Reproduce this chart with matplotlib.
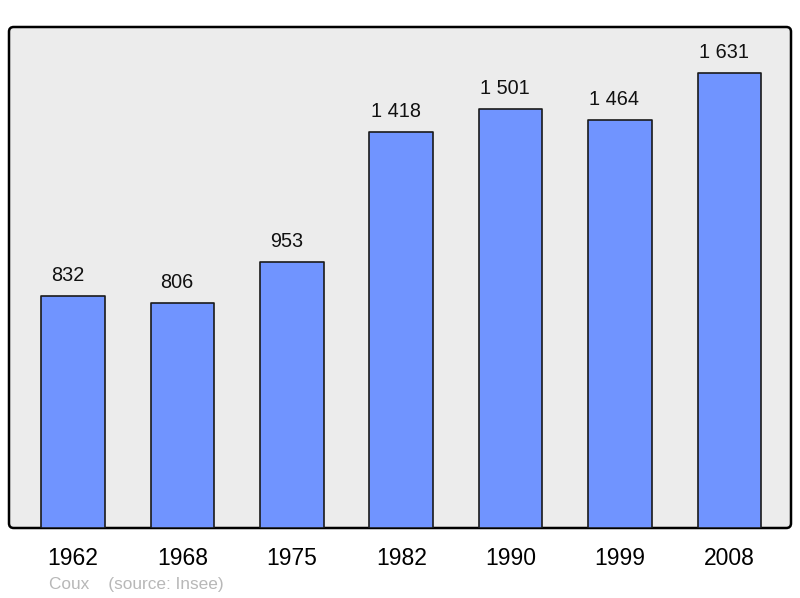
import matplotlib
matplotlib.use('Agg')
import matplotlib.pyplot as plt
from matplotlib.patches import FancyBboxPatch

YEARS = ['1962', '1968', '1975', '1982', '1990', '1999', '2008']
POP = [832, 806, 953, 1418, 1501, 1464, 1631]
LABELS = ['832', '806', '953', '1 418', '1 501', '1 464', '1 631']

BG = '#ececec'
BAR = '#7094ff'
INK = '#000000'
GREY = '#b8b8b8'

plt.rcParams['font.family'] = ['Liberation Sans', 'DejaVu Sans']

fig = plt.figure(figsize=(8, 5.98), dpi=100, facecolor='white')
ax = fig.add_axes([9 / 800, 1 - 528 / 598, 782 / 800, 501 / 598])
ax.set_facecolor('none')
for s in ax.spines.values():
    s.set_visible(False)

# rounded frame
frame = FancyBboxPatch((0, 0), 1, 1, boxstyle='round,pad=0,rounding_size=0.006',
                       mutation_aspect=782 / 501, transform=ax.transAxes,
                       facecolor=BG, edgecolor=INK, lw=1.8, clip_on=False, zorder=0)
ax.add_patch(frame)

x = list(range(len(YEARS)))
ax.bar(x, POP, width=0.58, color=BAR, edgecolor='#1a1a1a', lw=1.2,
       joinstyle='round', zorder=2)
for xi, v, lab in zip(x, POP, LABELS):
    ax.annotate(lab, (xi, v), xytext=(-4, 8), textcoords='offset points',
                ha='center', va='bottom', fontsize=14.3, color='#111111')

ax.set_xlim(-0.585, 6.563)
ax.set_ylim(0, 1796)
ax.set_xticks(x)
ax.set_xticklabels(YEARS, fontsize=16.5)
ax.tick_params(axis='x', length=0, pad=14)
ax.set_yticks([])

fig.text(49 / 800, 1 - 584 / 598, 'Coux    (source: Insee)', fontsize=12.4,
         color=GREY, ha='left', va='center')

fig.savefig('out.png', dpi=100, facecolor='white')
